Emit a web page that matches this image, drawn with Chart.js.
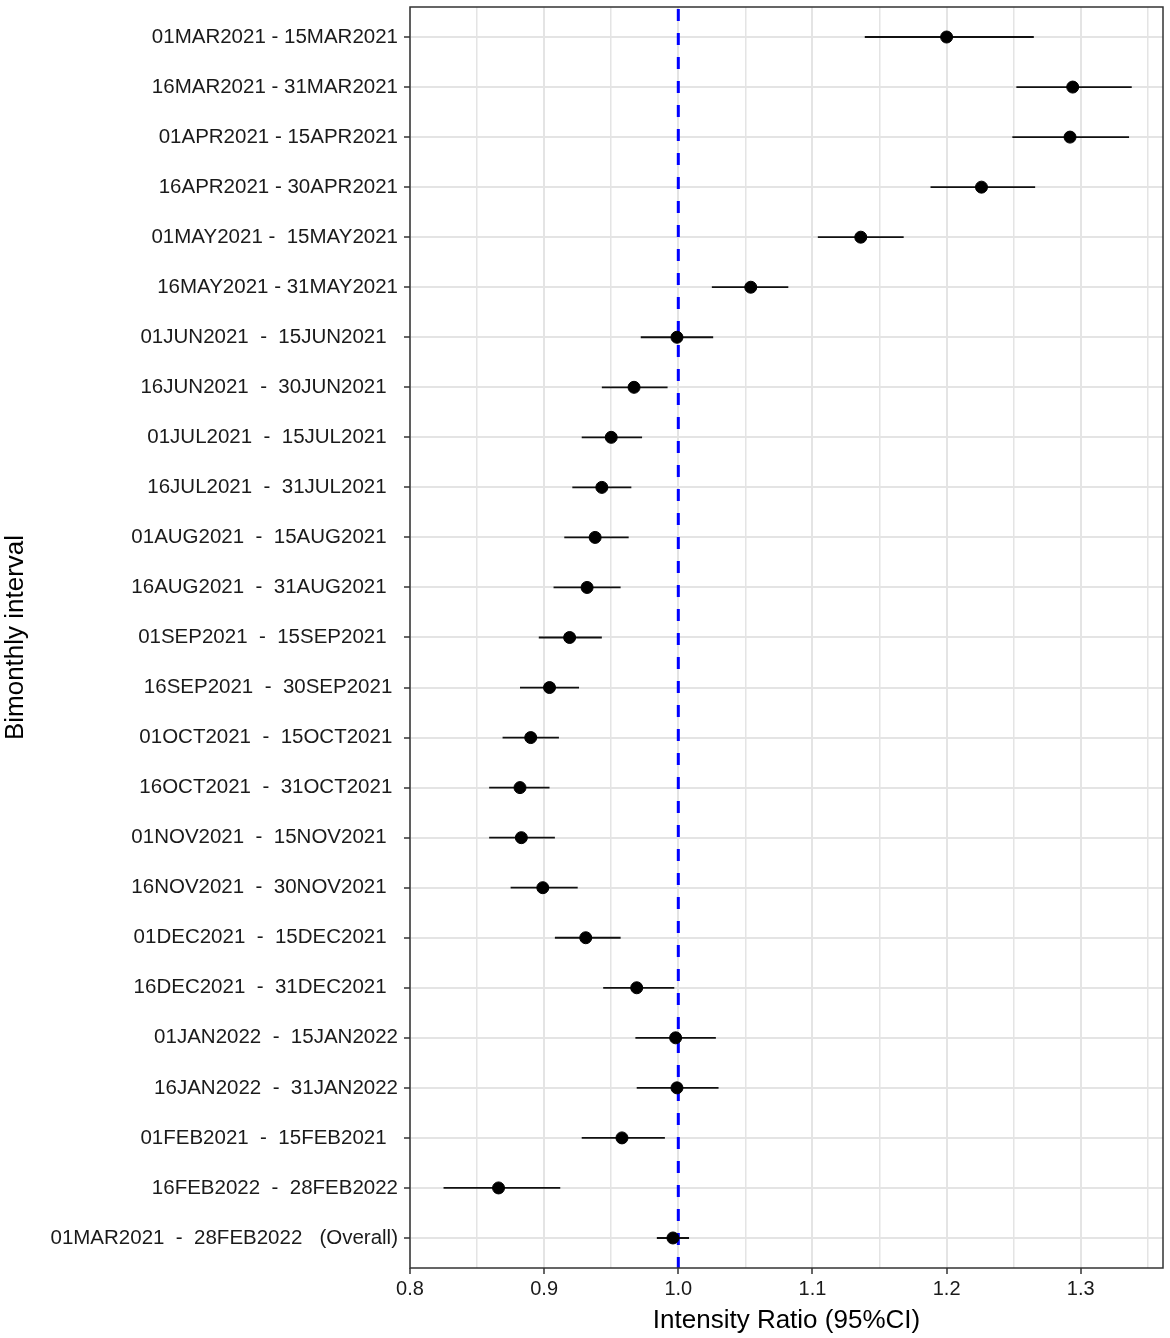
<!DOCTYPE html>
<html>
<head>
<meta charset="utf-8">
<script src="https://cdn.jsdelivr.net/npm/chart.js@4/dist/chart.umd.min.js"></script>
<style>
  html, body { margin: 0; padding: 0; background: #fff; }
  #wrap { width: 1170px; height: 1338px; }
</style>
</head>
<body>
<div id="wrap"><canvas id="myChart" width="1170" height="1338"></canvas></div>
<script>
// intervalli (dall'alto verso il basso)
const intervals = [
  '01MAR2021 - 15MAR2021',
  '16MAR2021 - 31MAR2021',
  '01APR2021 - 15APR2021',
  '16APR2021 - 30APR2021',
  '01MAY2021 -  15MAY2021',
  '16MAY2021 - 31MAY2021',
  '01JUN2021  -  15JUN2021  ',
  '16JUN2021  -  30JUN2021  ',
  '01JUL2021  -  15JUL2021  ',
  '16JUL2021  -  31JUL2021  ',
  '01AUG2021  -  15AUG2021  ',
  '16AUG2021  -  31AUG2021  ',
  '01SEP2021  -  15SEP2021  ',
  '16SEP2021  -  30SEP2021 ',
  '01OCT2021  -  15OCT2021 ',
  '16OCT2021  -  31OCT2021 ',
  '01NOV2021  -  15NOV2021  ',
  '16NOV2021  -  30NOV2021  ',
  '01DEC2021  -  15DEC2021  ',
  '16DEC2021  -  31DEC2021  ',
  '01JAN2022  -  15JAN2022',
  '16JAN2022  -  31JAN2022',
  '01FEB2021  -  15FEB2021  ',
  '16FEB2022  -  28FEB2022',
  '01MAR2021  -  28FEB2022   (Overall)'
];

// rapporto di intensità e intervallo di confidenza 95%
const ratio = [1.200, 1.294, 1.292, 1.226, 1.136, 1.054, 0.999, 0.967, 0.950, 0.943,
               0.938, 0.932, 0.919, 0.904, 0.890, 0.882, 0.883, 0.899, 0.931, 0.969,
               0.998, 0.999, 0.958, 0.866, 0.996];
const ciLow = [1.139, 1.252, 1.249, 1.188, 1.104, 1.025, 0.972, 0.943, 0.928, 0.921,
               0.915, 0.907, 0.896, 0.882, 0.869, 0.859, 0.859, 0.875, 0.908, 0.944,
               0.968, 0.969, 0.928, 0.825, 0.984];
const ciHigh = [1.265, 1.338, 1.336, 1.266, 1.168, 1.082, 1.026, 0.992, 0.973, 0.965,
                0.963, 0.957, 0.943, 0.926, 0.911, 0.904, 0.908, 0.925, 0.957, 0.997,
                1.028, 1.030, 0.990, 0.912, 1.008];

const xTicks = [0.8, 0.85, 0.9, 0.95, 1.0, 1.05, 1.1, 1.15, 1.2, 1.25, 1.3, 1.35];
const refValue = 1.0; // linea tratteggiata di riferimento

const points = ratio.map((v, i) => ({ x: v, y: i }));
const isMajor = v => Math.abs(v * 10 - Math.round(v * 10)) < 1e-6;
const fontFamily = '"Liberation Sans", Arial, sans-serif';

// barre orizzontali degli IC + linea di riferimento + bordo del pannello
const forestPlugin = {
  id: 'forest',
  beforeDatasetsDraw(chart) {
    const { ctx, chartArea: a, scales: { x, y } } = chart;
    ctx.save();
    // linea blu tratteggiata
    const rx = x.getPixelForValue(refValue);
    ctx.strokeStyle = '#0000ff';
    ctx.lineWidth = 3;
    ctx.setLineDash([12, 12]);
    ctx.beginPath();
    ctx.moveTo(rx, a.top + 2);
    ctx.lineTo(rx, a.bottom);
    ctx.stroke();
    ctx.setLineDash([]);
    // intervalli di confidenza
    ctx.strokeStyle = '#111';
    ctx.lineWidth = 1.8;
    ciLow.forEach((lo, i) => {
      const py = y.getPixelForValue(i);
      ctx.beginPath();
      ctx.moveTo(x.getPixelForValue(lo), py);
      ctx.lineTo(x.getPixelForValue(ciHigh[i]), py);
      ctx.stroke();
    });
    ctx.restore();
  },
  afterDraw(chart) {
    const { ctx, chartArea: a } = chart;
    ctx.save();
    ctx.strokeStyle = '#333';
    ctx.lineWidth = 1.5;
    ctx.strokeRect(a.left, a.top, a.right - a.left, a.bottom - a.top);
    ctx.restore();
  }
};

const ctx = document.getElementById('myChart').getContext('2d');
const myChart = new Chart(ctx, {
  type: 'scatter',
  data: {
    datasets: [{
      label: 'Intensity Ratio',
      data: points,
      backgroundColor: '#000',
      borderColor: '#000',
      pointRadius: 6,
      pointHoverRadius: 6
    }]
  },
  plugins: [forestPlugin],
  options: {
    responsive: false,
    animation: false,
    devicePixelRatio: 1,
    layout: { padding: { top: 5, right: 5, bottom: 2, left: 0 } },
    plugins: {
      legend: { display: false },
      tooltip: { enabled: false }
    },
    scales: {
      x: {
        type: 'linear',
        min: 0.8,
        max: 1.3613,
        afterBuildTicks: s => { s.ticks = xTicks.map(v => ({ value: v })); },
        afterFit: s => { s.height = 68; s.paddingLeft = 0; s.paddingRight = 0; },
        border: { display: false },
        grid: {
          color: '#e4e4e4',
          lineWidth: c => (c.tick && isMajor(c.tick.value)) ? 2 : 1.5,
          tickColor: c => (c.tick && isMajor(c.tick.value)) ? '#333' : 'rgba(0,0,0,0)',
          tickLength: 6,
          tickWidth: 1.5
        },
        ticks: {
          autoSkip: false,
          maxRotation: 0,
          padding: 3,
          color: '#1a1a1a',
          font: { family: fontFamily, size: 20 },
          callback: v => isMajor(v) ? v.toFixed(1) : ''
        },
        title: {
          display: true,
          text: 'Intensity Ratio (95%CI)',
          color: '#000',
          padding: { top: 0, bottom: 0 },
          font: { family: fontFamily, size: 26 }
        }
      },
      y: {
        type: 'linear',
        reverse: true,
        min: -0.6,
        max: 24.6,
        afterBuildTicks: s => { s.ticks = intervals.map((_, i) => ({ value: i })); },
        afterFit: s => { s.width = 410; s.paddingTop = 0; s.paddingBottom = 0; },
        border: { display: false },
        grid: {
          color: '#e4e4e4',
          lineWidth: 2,
          tickColor: '#333',
          tickLength: 6,
          tickWidth: 1.5
        },
        ticks: {
          autoSkip: false,
          padding: 6,
          color: '#1a1a1a',
          font: { family: fontFamily, size: 20.5 },
          callback: v => intervals[v] !== undefined ? intervals[v] : ''
        },
        title: {
          display: true,
          text: 'Bimonthly interval',
          color: '#000',
          padding: { top: 0, bottom: 0 },
          font: { family: fontFamily, size: 26 }
        }
      }
    }
  }
});
</script>
</body>
</html>
